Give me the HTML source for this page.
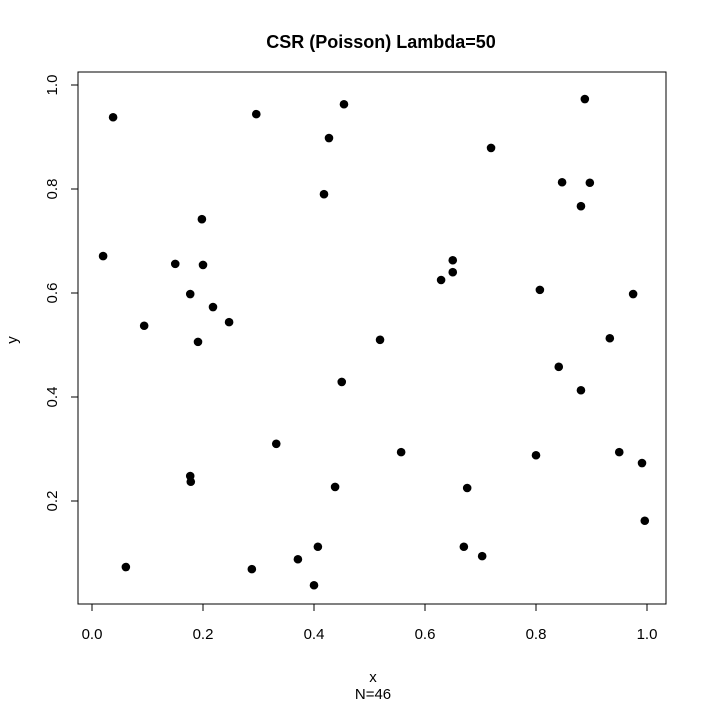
<!DOCTYPE html>
<html><head><meta charset="utf-8"><style>
body{margin:0;background:#fff;}
svg text{font-family:"Liberation Sans",Arial,sans-serif;fill:#000;}
</style></head><body>
<svg id="chart" width="709" height="708">
<text x="381" y="48" font-size="18" font-weight="bold" text-anchor="middle">CSR (Poisson) Lambda=50</text>
<rect x="78" y="72" width="588" height="532" fill="none" stroke="#000" stroke-width="1"/>
<g id="xaxis"></g>
<g id="yaxis"></g>
<text x="373" y="682" font-size="15" text-anchor="middle">x</text>
<text x="373" y="699" font-size="15" text-anchor="middle">N=46</text>
<text x="17" y="340" font-size="15" text-anchor="middle" transform="rotate(-90 17 340)">y</text>
<g id="points"></g>
</svg>
<script>
const xs=[0.020,0.038,0.061,0.094,0.150,0.177,0.177,0.178,0.191,0.198,0.200,0.218,0.247,0.288,0.296,0.332,0.371,0.407,0.400,0.418,0.427,0.438,0.454,0.450,0.519,0.557,0.629,0.650,0.650,0.676,0.719,0.670,0.703,0.800,0.807,0.841,0.847,0.881,0.881,0.888,0.897,0.933,0.975,0.950,0.991,0.996];
const ys=[0.671,0.938,0.073,0.537,0.656,0.598,0.248,0.237,0.506,0.742,0.654,0.573,0.544,0.069,0.944,0.310,0.088,0.112,0.038,0.790,0.898,0.227,0.963,0.429,0.510,0.294,0.625,0.663,0.640,0.225,0.879,0.112,0.094,0.288,0.606,0.458,0.813,0.413,0.767,0.973,0.812,0.513,0.598,0.294,0.273,0.162];
const xTicks=[0,0.2,0.4,0.6,0.8,1.0];
const xTickLabels=["0.0","0.2","0.4","0.6","0.8","1.0"];
const yTicks=[0.2,0.4,0.6,0.8,1.0];
const yTickLabels=["0.2","0.4","0.6","0.8","1.0"];
const NS="http://www.w3.org/2000/svg";
const sx=v=>92+v*555, sy=v=>605-v*520;
function mk(t,a,p){const e=document.createElementNS(NS,t);for(const k in a)e.setAttribute(k,a[k]);p.appendChild(e);return e;}
const xa=document.getElementById('xaxis'),ya=document.getElementById('yaxis'),pg=document.getElementById('points');
mk('line',{x1:sx(0),x2:sx(1),y1:604,y2:604,stroke:'#000'},xa);
xTicks.forEach((v,i)=>{
 const t=mk('line',{x1:sx(v),x2:sx(v),y1:604,y2:611,stroke:'#000'},xa);
 
 
 const l=mk('text',{x:sx(v),y:639,'font-size':15,'text-anchor':'middle'},xa);l.textContent=xTickLabels[i];
 
 
});
mk('line',{x1:78,x2:78,y1:sy(0.2),y2:sy(1),stroke:'#000'},ya);
yTicks.forEach((v,i)=>{
 const t=mk('line',{x1:71,x2:78,y1:sy(v),y2:sy(v),stroke:'#000'},ya);
 
 
 const l=mk('text',{x:57,y:sy(v),'font-size':15,'text-anchor':'middle',transform:`rotate(-90 57 ${sy(v)})`},ya);l.textContent=yTickLabels[i];
 
 
});
xs.forEach((v,i)=>{
 const c=mk('circle',{cx:sx(v),cy:sy(ys[i]),r:4.3,fill:'#000'},pg);
 
 
});
</script>
</body></html>
